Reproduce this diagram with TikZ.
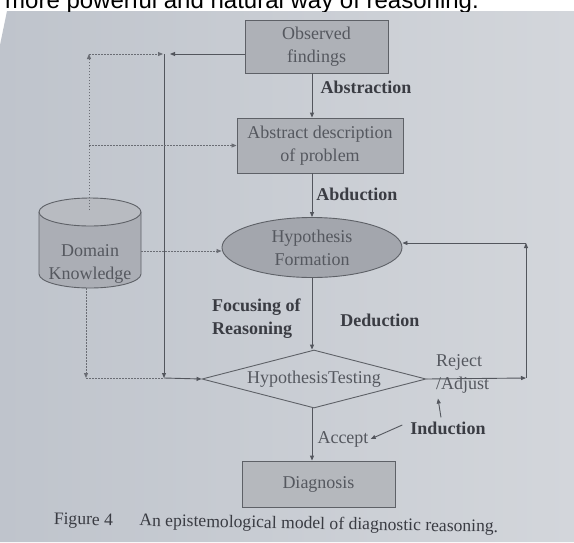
\documentclass[tikz,border=0pt]{standalone}
\usepackage{fontspec}
\setmainfont{Liberation Serif}
\setsansfont{Liberation Sans}
\usetikzlibrary{shapes.geometric,arrows.meta,calc}
\definecolor{bgL}{HTML}{BFC4CC}
\definecolor{bgR}{HTML}{D3D6DB}
\definecolor{boxfill}{HTML}{AEB1B7}
\definecolor{ellfill}{HTML}{A3A6AD}
\definecolor{diagfill}{HTML}{B5B8BD}
\definecolor{cylbody}{HTML}{ABAEB5}
\definecolor{cyltopc}{HTML}{B8BBC1}
\definecolor{edgec}{HTML}{5E6167}
\definecolor{linec}{HTML}{53565D}
\definecolor{dotc}{HTML}{6A6D74}
\definecolor{ntext}{HTML}{55585F}
\definecolor{ltext}{HTML}{3A3C43}
\tikzset{mytip/.tip={Triangle[length=5pt,width=4pt]}}
\begin{document}
\begin{tikzpicture}[x=1pt,y=-1pt,
  every node/.style={font=\fontsize{18}{23}\selectfont},
  procbox/.style={draw=edgec, line width=0.9pt, fill=boxfill, text=ntext, align=center, inner sep=0pt},
  conn/.style={draw=linec, line width=0.9pt, -mytip},
  dotconn/.style={draw=dotc, line width=0.8pt, dash pattern=on 1.5pt off 1.5pt},
  lbl/.style={text=ltext, font=\fontsize{18}{23}\selectfont\bfseries, inner sep=0pt},
  rlbl/.style={text=ntext, inner sep=0pt}]
\useasboundingbox (0,0) rectangle (574,542);
\fill[white] (0,0) rectangle (574,542);
\shade[left color=bgL, right color=bgR] (7,11) -- (574,11) -- (574,542) -- (0,542) -- (0,45) -- cycle;
\begin{scope}
\clip (0,0) rectangle (574,11);
\node[anchor=base west, inner sep=0pt, font=\fontsize{24}{28}\selectfont\sffamily, text=black] (toptext) at (5,8) {more powerful and natural way of reasoning.};
\end{scope}

% shapes
\node[procbox, minimum width=143pt, minimum height=53pt] (obs) at (316.5,46.5) {Observed\\findings};
\node[procbox, minimum width=166pt, minimum height=55pt] (abs) at (320,145.5) {Abstract description\\of problem};
\node[ellipse, draw=edgec, line width=0.9pt, fill=ellfill, text=ntext, align=center, inner sep=0pt, minimum width=180pt, minimum height=60pt] (hyp) at (312,247.5) {Hypothesis\\Formation};
\node[diamond, draw=edgec, line width=0.9pt, text=ntext, inner sep=0pt, minimum width=224pt, minimum height=58pt, aspect=3.86] (test) at (314,379) {HypothesisTesting};
\node[procbox, fill=diagfill, minimum width=153pt, minimum height=46pt] (diag) at (318.5,484) {Diagnosis};

% cylinder
\fill[cylbody] (39,212) -- (39,274) .. controls (39,281.7) and (61.8,288) .. (90,288) .. controls (118.2,288) and (141,281.7) .. (141,274) -- (141,212) -- cycle;
\draw[edgec, line width=0.9pt] (39,212) -- (39,274) .. controls (39,281.7) and (61.8,288) .. (90,288) .. controls (118.2,288) and (141,281.7) .. (141,274) -- (141,212);
\draw[edgec, line width=0.9pt, fill=cyltopc] (90,212) ellipse [x radius=51pt, y radius=14pt];
\node[text=ntext, align=center, inner sep=0pt] (dk) at (90,263.5) {Domain\\Knowledge};

% coordinates
\coordinate (cyltop) at (89,210);
\coordinate (cylright) at (141,251);
\coordinate (cylbot) at (86,288);
\coordinate (c1) at (89,54);
\coordinate (j1) at (164,54);
\coordinate (c2) at (86,378);
\coordinate (j2) at (164,378);
\coordinate (r1) at (526,378);
\coordinate (r2) at (526,243);
\coordinate (spine) at (312,0);

% main spine
\draw[conn] (spine |- obs.south) -- (spine |- abs.north);
\draw[conn] (spine |- abs.south) -- (spine |- hyp.north);
\draw[conn] (hyp.south) -- (spine |- test.north);
\draw[conn] (spine |- test.south) -- (spine |- diag.north);

% left network
\draw[conn] (obs.west |- j1) -- ([xshift=6pt]j1);
\draw[dotconn, -mytip] (c1) -- ([xshift=-1pt]j1);
\draw[dotconn, -mytip] (cyltop) -- (c1);
\draw[conn] (j1) -- (j2);
\draw[dotconn, -mytip] (c1 |- abs.west) -- (abs.west);
\draw[dotconn, -mytip] (cylright) -- (cylright -| hyp.west);
\draw[dotconn, -mytip] (cylbot) -- (c2);
\draw[dotconn] (c2) -- (j2);
\draw[conn] (j2) -- (test.west);

% right loop
\draw[conn] (test.east) -- (r1);
\draw[conn] (r1) -- (r2);
\draw[conn] (r2) -- (r2 -| hyp.east);

% labels
\node[lbl] (labs) at (366,87) {Abstraction};
\node[lbl] (labd) at (357,194) {Abduction};
\node[lbl, align=left, anchor=west] (lfoc) at (212,318.5) {Focusing of\\Reasoning};
\node[lbl] (lded) at (380,320) {Deduction};
\node[rlbl, align=left, anchor=west] (lrej) at (436,374) {Reject\\/Adjust};
\node[lbl] (lind) at (448,428) {Induction};
\node[rlbl] (lacc) at (343,439) {Accept};
\draw[conn] ([xshift=-7pt,yshift=4pt]lind.north) -- ([xshift=2pt,yshift=-5pt]lrej.south west);
\draw[conn] ([xshift=-8pt,yshift=3pt]lind.west) -- ([xshift=2pt]lacc.east);

% caption
\node[inner sep=0pt, text=ltext, font=\fontsize{17.6}{21}\selectfont, rotate=-1] (cap) at (276,524) {Figure 4\hspace{1.5em}An epistemological model of diagnostic reasoning.};
\end{tikzpicture}
\end{document}
